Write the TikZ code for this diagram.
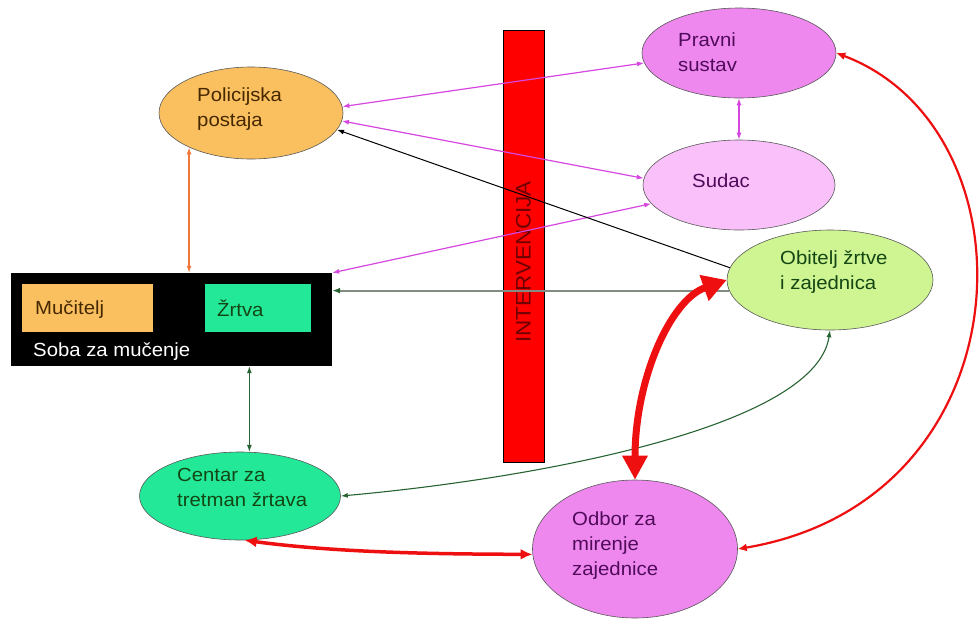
\documentclass[tikz,border=0pt]{standalone}
\usepackage{fontspec}
\setmainfont{Liberation Sans}[FakeStretch=1.07]
\usetikzlibrary{arrows.meta,shapes.geometric}
\definecolor{orangefill}{RGB}{250,192,96}
\definecolor{mint}{RGB}{34,232,152}
\definecolor{violetfill}{RGB}{238,136,238}
\definecolor{pinkfill}{RGB}{250,192,250}
\definecolor{limefill}{RGB}{206,245,146}
\definecolor{magline}{RGB}{214,70,224}
\definecolor{dgreen}{RGB}{40,100,50}
\definecolor{grayline}{RGB}{130,140,130}
\definecolor{redline}{RGB}{238,16,16}
\definecolor{orangeline}{RGB}{240,120,60}
\definecolor{browntext}{RGB}{70,40,0}
\definecolor{purpletext}{RGB}{80,10,90}
\definecolor{greentext}{RGB}{20,70,20}
\definecolor{darkred}{RGB}{110,0,0}
\begin{document}
\begin{tikzpicture}[x=1pt,y=-1pt,
  ell/.style={ellipse, draw=black!65, line width=0.6pt, inner sep=0pt},
  txt/.style={font=\fontsize{19}{25}\selectfont, align=left, anchor=west, inner sep=0pt},
  magarrow/.style={draw=magline, line width=1.2pt, {Latex[length=7pt,width=5pt]}-{Latex[length=7pt,width=5pt]}},
  greenarrow/.style={draw=dgreen, line width=1.1pt, {Latex[length=7pt,width=5pt]}-{Latex[length=7pt,width=5pt]}},
  redthin/.style={draw=redline, line width=2.2pt, {Latex[length=9pt,width=8pt]}-{Latex[length=9pt,width=8pt]}}
]
\fill[white] (0,0) rectangle (980,619);
\useasboundingbox (0,0) rectangle (980,619);

% intervention bar
\node[draw=black, fill=red, line width=0.8pt, minimum width=41pt, minimum height=432pt, inner sep=0pt] (bar) at (523.5,246) {};
\node[font=\fontsize{21}{24}\selectfont, text=darkred, rotate=90, inner sep=0pt] (bart) at (523.5,262) {INTERVENCIJA};

% ellipses
\node[ell, fill=orangefill, minimum width=184pt, minimum height=92pt] (pol) at (251,113) {};
\node[txt, text=browntext] (polt) at (197,109) {Policijska\\postaja};

\node[ell, fill=violetfill, minimum width=194pt, minimum height=90pt] (prav) at (739,53) {};
\node[txt, text=purpletext] (pravt) at (678,52) {Pravni\\sustav};

\node[ell, fill=pinkfill, minimum width=192pt, minimum height=90pt] (sud) at (739,185) {};
\node[txt, text=purpletext] (sudt) at (692,181) {Sudac};

\node[ell, fill=limefill, minimum width=206pt, minimum height=100pt] (obit) at (830,280) {};
\node[txt, text=greentext] (obitt) at (780,272) {Obitelj žrtve\\i zajednica};

\node[ell, fill=mint, minimum width=201pt, minimum height=88pt] (cent) at (240,496) {};
\node[txt, text=greentext] (centt) at (177,487) {Centar za\\tretman žrtava};

\node[ell, fill=violetfill, minimum width=205pt, minimum height=138pt] (odb) at (635,549) {};
\node[txt, text=purpletext] (odbt) at (572,546) {Odbor za\\mirenje\\zajednice};

% torture room
\node[fill=black, minimum width=321pt, minimum height=93pt, inner sep=0pt] (box) at (171.5,319.5) {};
\node[fill=orangefill, minimum width=131pt, minimum height=48pt, inner sep=0pt] (muc) at (87.5,308) {};
\node[txt, text=browntext] (muct) at (35,310) {Mučitelj};
\node[fill=mint, minimum width=106pt, minimum height=48pt, inner sep=0pt] (zrt) at (258,308) {};
\node[txt, text=greentext] (zrtt) at (217,308) {Žrtva};
\node[txt, text=white] (sobat) at (33,352) {Soba za mučenje};

% magenta connectors
\draw[magarrow] (pol.4) -- (prav.186);
\draw[magarrow] (pol.-5) -- (sud.176);
\draw[magarrow] (box.north east) -- (sud.192);
\draw[magarrow] (prav.south) -- (sud.north);

% black arrow
\draw[draw=black, line width=1pt, -{Latex[length=7pt,width=5pt]}] (obit.173) -- (pol.-11);

% gray line to box
\draw[draw=grayline, line width=1.8pt, -{Latex[length=8pt,width=6pt,color=dgreen]}] (obit.186) -- (obit.186 -| box.east);

% orange vertical
\draw[draw=orangeline, line width=1.3pt, {Latex[length=7pt,width=5pt]}-{Latex[length=7pt,width=5pt]}] (pol.209) -- (pol.209 |- box.north);

% green vertical
\draw[greenarrow] (box.south -| cent.78) -- (cent.78);

% green curve
\draw[greenarrow] (obit.south) .. controls (815,430) and (520,480) .. (cent.east);

% thick red
\draw[draw=redline, line width=7pt, {Triangle[length=24pt,width=26pt]}-{Triangle[length=24pt,width=24pt]}] (obit.west) .. controls (670,300) and (635,380) .. (odb.north);

% red thin long curve
\draw[redthin] (prav.east) .. controls (1040,130) and (1030,500) .. (odb.east);

% red bottom
\draw[draw=redline, line width=3.5pt, {Latex[length=12pt,width=11pt]}-{Latex[length=12pt,width=11pt]}] (cent.-84) .. controls (340,553) and (440,554) .. (odb.183);
\end{tikzpicture}
\end{document}
